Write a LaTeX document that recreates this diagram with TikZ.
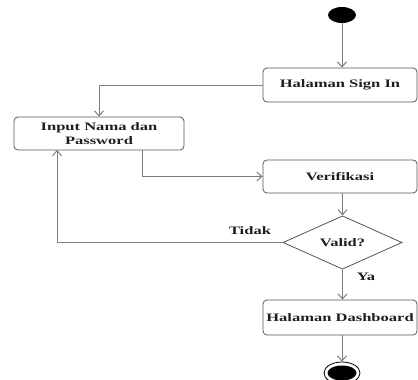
\documentclass[tikz,border=0pt]{standalone}
\usepackage{fontspec}
\setmainfont{Liberation Serif}
\usetikzlibrary{shapes.geometric,arrows.meta}
\newcommand{\wide}[1]{\scalebox{1.45}[1]{#1}}
\definecolor{linegray}{RGB}{125,125,125}
\definecolor{boxgray}{RGB}{85,85,85}
\definecolor{txt}{RGB}{30,30,30}
\tikzset{
  actbox/.style={draw=boxgray, line width=0.8pt, rounded corners=4pt, rectangle,
    inner sep=0pt, text=txt, align=center,
    font=\fontsize{11.4}{13.5}\selectfont\bfseries},
  decbox/.style={draw=boxgray, line width=0.8pt, diamond, inner sep=0pt, text=txt,
    font=\fontsize{11.4}{13.5}\selectfont\bfseries},
  conn/.style={draw=linegray, line width=1pt, -{Straight Barb[length=5pt,width=9pt]}},
  lbl/.style={text=txt, font=\fontsize{11.4}{13.5}\selectfont\bfseries, inner sep=0pt}
}
\begin{document}
\begin{tikzpicture}[x=1pt,y=-1pt]
\useasboundingbox (0,0) rectangle (418,380);
\clip (0,0) rectangle (418,380);
\node[ellipse, fill=black, minimum width=28pt, minimum height=16pt, inner sep=0pt] (start) at (342,15) {};
\node[actbox, minimum width=154pt, minimum height=34pt] (signin) at (340,85) {\wide{Halaman Sign In}};
\node[actbox, minimum width=170pt, minimum height=33pt] (input) at (99,133.5) {\wide{Input Nama dan}\\\wide{Password}};
\node[actbox, minimum width=154pt, minimum height=33pt] (verif) at (340,176.5) {\wide{Verifikasi}};
\node[decbox, minimum width=119pt, minimum height=45pt] (dec) at (342.5,242.5) {\wide{Valid?}};
\node[actbox, minimum width=154pt, minimum height=35pt] (dash) at (340,317.5) {\wide{Halaman Dashboard}};
\node[ellipse, draw=black, line width=0.8pt, minimum width=36pt, minimum height=22pt, inner sep=0pt] (end) at (342,373) {};
\node[ellipse, fill=black, minimum width=29pt, minimum height=15pt, inner sep=0pt] (endin) at (342,373) {};
\coordinate (inA) at (142,150);
\coordinate (inB) at (57,150);
\draw[conn] (start.south) -- (start.south |- signin.north);
\draw[conn] (signin.west) -| (input.north);
\draw[conn] (inA) |- (verif.west);
\draw[conn] (dec.north |- verif.south) -- (dec.north);
\draw[conn] (dec.west) -| (inB);
\draw[conn] (dec.south) -- (dec.south |- dash.north);
\draw[conn] (end.north |- dash.south) -- (end.north);
\node[lbl] (tidak) at (250,231) {\wide{Tidak}};
\node[lbl] (ya) at (366,277) {\wide{Ya}};
\end{tikzpicture}
\end{document}
